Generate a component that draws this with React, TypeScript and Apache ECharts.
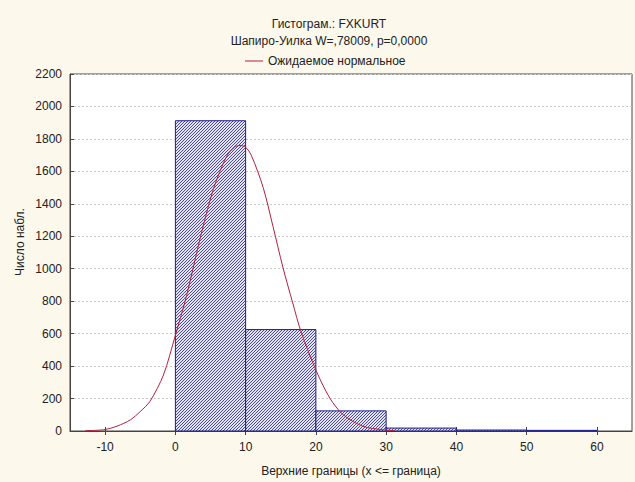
import React, { useEffect, useRef } from "react";
import * as echarts from "echarts";

const titleText = "Гистограм.: FXKURT";
const subtitleText = "Шапиро-Уилка W=,78009, p=0,0000";
const curveName = "Ожидаемое нормальное";
const xAxisName = "Верхние границы (x <= граница)";
const yAxisName = "Число набл.";

const binStarts = [0, 10, 20, 30, 40, 50];
const binEnds = [10, 20, 30, 40, 50, 60];
const binCounts = [1912, 625, 124, 18, 6, 4];

const curveX = [-12.8, -10.2, -8.3, -6.4, -5.0, -3.6, -1.7, 0, 1.6, 3.5, 5.4, 7.3, 8.4, 9.2, 10.0, 10.8, 12.5, 13.9, 15.3, 16.7, 17.9, 20.1, 22.0, 23.9, 26.7, 29.5, 31.2];
const curveY = [2, 8, 30, 69, 120, 184, 345, 590, 835, 1183, 1489, 1693, 1748, 1760, 1748, 1700, 1500, 1260, 1010, 790, 610, 366, 202, 100, 29, 8, 2];

const xTicks = [-10, 0, 10, 20, 30, 40, 50, 60];

const FONT = "Liberation Sans, Arial, sans-serif";

export default function App() {
  const ref = useRef<HTMLDivElement>(null);
  useEffect(() => {
    if (!ref.current) return;
    document.body.style.margin = "0";
    document.body.style.background = "#fcf8ec";
    const chart = echarts.init(ref.current, undefined, { renderer: "svg" });

    const cv = document.createElement("canvas");
    cv.width = 3;
    cv.height = 3;
    const ctx = cv.getContext("2d")!;
    ctx.fillStyle = "#e2e2ee";
    ctx.fillRect(0, 0, 3, 3);
    ctx.fillStyle = "#4f4f90";
    ctx.fillRect(0, 2, 1, 1);
    ctx.fillRect(1, 1, 1, 1);
    ctx.fillRect(2, 0, 1, 1);
    const pattern: any = { image: cv, repeat: "repeat" };

    const bins = binStarts.map((s, i) => [s, binEnds[i], binCounts[i]]);
    const curve = curveX.map((x, i) => [x, curveY[i]]);

    const axisText = { fontFamily: FONT, fontSize: 12, color: "#222" };

    chart.setOption({
      animation: false,
      backgroundColor: "#fcf8ec",
      textStyle: { fontFamily: FONT },
      title: [
        { text: titleText, left: 324, top: 13, textAlign: "center", textStyle: { ...axisText, fontWeight: "normal" } },
        { text: subtitleText, left: 324, top: 30, textAlign: "center", textStyle: { ...axisText, fontWeight: "normal" } },
      ],
      legend: {
        data: [{ name: curveName, icon: "path://M0,0 L18,0 L18,1 L0,1 Z" }],
        left: 240,
        top: 50,
        itemWidth: 18,
        itemHeight: 1,
        itemGap: 4,
        textStyle: axisText,
      },
      grid: {
        left: 70,
        right: 3,
        top: 74,
        bottom: 49,
        show: true,
        backgroundColor: "#ffffff",
        borderColor: "#444",
        borderWidth: 1,
      },
      xAxis: [
        {
          type: "value",
          min: -15,
          max: 65,
          position: "bottom",
          axisLine: { show: true, onZero: false, lineStyle: { color: "#444" } },
          axisTick: { show: true, inside: true, length: 4, customValues: xTicks, lineStyle: { color: "#444" } },
          axisLabel: { ...axisText, margin: 10, customValues: xTicks },
          splitLine: { show: false },
          name: xAxisName,
          nameLocation: "middle",
          nameGap: 34,
          nameTextStyle: axisText,
        },
        {
          type: "value",
          min: -15,
          max: 65,
          position: "top",
          axisLine: { show: false },
          axisTick: { show: true, inside: true, length: 4, customValues: xTicks, lineStyle: { color: "#444" } },
          axisLabel: { show: false },
          splitLine: { show: false },
        },
      ],
      yAxis: {
        type: "value",
        min: 0,
        max: 2200,
        interval: 200,
        axisLine: { show: true, onZero: false, lineStyle: { color: "#444" } },
        axisTick: { show: true, inside: true, length: 4, lineStyle: { color: "#444" } },
        axisLabel: { ...axisText, margin: 8, formatter: (v: number) => String(v) },
        splitLine: { show: true, lineStyle: { color: "#c8c8c8", type: [2, 2], width: 1 } },
      },
      graphic: [
        {
          type: "text",
          x: 20,
          y: 242,
          rotation: Math.PI / 2,
          style: {
            text: yAxisName,
            fontFamily: FONT,
            fontSize: 12,
            fill: "#222",
            textAlign: "center",
            textVerticalAlign: "middle",
          },
        },
      ],
      series: [
        {
          type: "custom",
          xAxisIndex: 0,
          data: bins,
          encode: { x: [0, 1], y: 2 },
          renderItem: (params: any, api: any) => {
            const x0 = api.value(0);
            const x1 = api.value(1);
            const y = api.value(2);
            const p0 = api.coord([x0, y]);
            const p1 = api.coord([x1, 0]);
            return {
              type: "rect",
              shape: { x: p0[0], y: p0[1], width: p1[0] - p0[0], height: p1[1] - p0[1] },
              style: { fill: pattern, stroke: "#1c1c8c", lineWidth: 1 },
            };
          },
          z: 2,
        },
        {
          type: "line",
          name: curveName,
          xAxisIndex: 0,
          data: curve,
          smooth: 0.3,
          symbol: "none",
          showSymbol: false,
          lineStyle: { color: "#b3203f", width: 1 },
          itemStyle: { color: "#b3203f" },
          z: 3,
        },
      ],
    });
    return () => chart.dispose();
  }, []);
  return <div ref={ref} style={{ position: "fixed", left: 0, top: 0, width: 635, height: 482 }} />;
}
